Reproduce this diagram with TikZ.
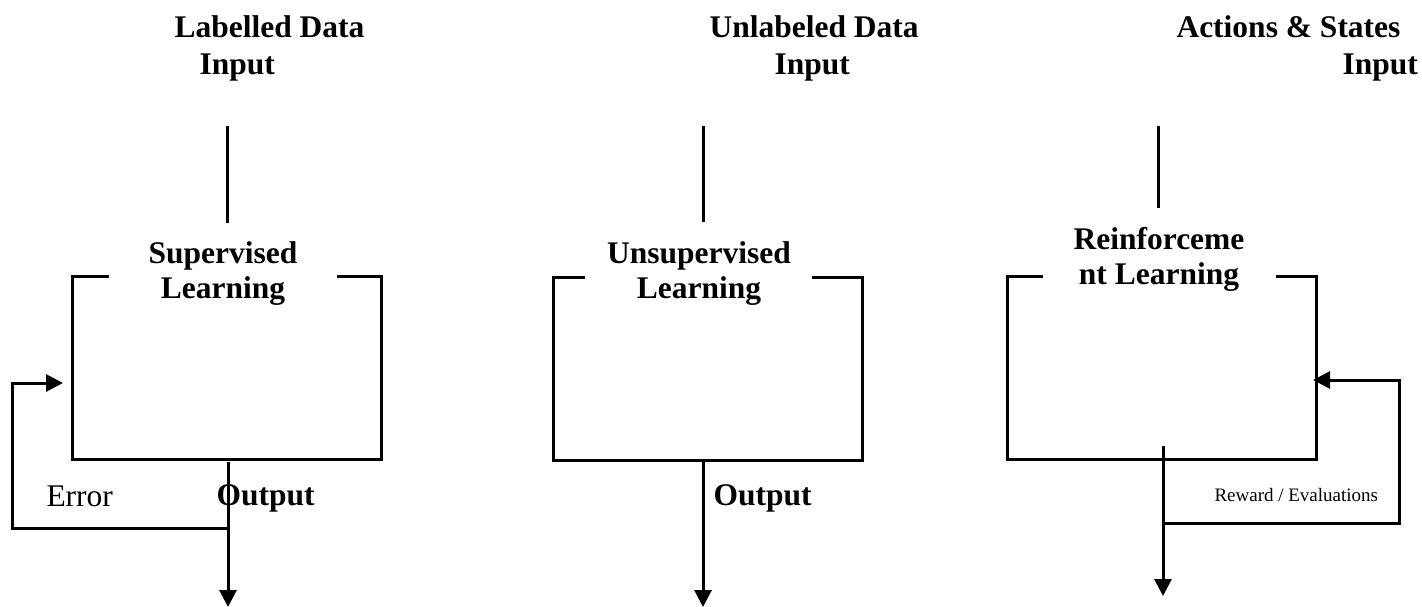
\documentclass[tikz,border=0pt]{standalone}
\usepackage{fontspec}
\setmainfont{Liberation Serif}
\usetikzlibrary{arrows.meta}

\begin{document}
\begin{tikzpicture}[x=1pt, y=-1pt, line width=3pt,
    heading/.style={font=\fontsize{31.5}{37}\selectfont\bfseries, align=left, anchor=base west, inner sep=0pt},
    boxtitle/.style={font=\fontsize{31.5}{35}\selectfont\bfseries, align=center, anchor=base, inner sep=0pt},
    plain/.style={font=\fontsize{31.5}{37}\selectfont, anchor=base west, inner sep=0pt},
    learnbox/.style={minimum width=309pt, minimum height=183pt, inner sep=0pt, outer sep=0pt},
    flow/.style={-{Triangle[length=17pt, width=17pt]}}]
    \useasboundingbox (0,0) rectangle (1422,607);

    \node[heading] (labelled) at (173,75) {Labelled Data\\\hspace*{25pt}Input};
    \node[heading] (unlabeled) at (708,75) {Unlabeled Data\\\hspace*{65pt}Input};
    \node[heading] (actions) at (1175,75) {Actions \& States\\\hspace*{166pt}Input};

    \node[learnbox] (sup) at (227,367.5) {};
    \node[learnbox] (unsup) at (707.5,368.5) {};
    \node[learnbox] (rl) at (1161.5,367.5) {};

    \node[boxtitle] (suptitle) at (223,298) {Supervised\\Learning};
    \node[boxtitle] (unsuptitle) at (699,298) {Unsupervised\\Learning};
    \node[boxtitle] (rltitle) at (1159,284) {Reinforceme\\nt Learning};

    \draw ([xshift=36pt]sup.north west) -- (sup.north west) -- (sup.south west) -- (sup.south east) -- (sup.north east) -- ([xshift=-45pt]sup.north east);
    \draw ([xshift=32pt]unsup.north west) -- (unsup.north west) -- (unsup.south west) -- (unsup.south east) -- (unsup.north east) -- ([xshift=-50pt]unsup.north east);
    \draw ([xshift=36pt]rl.north west) -- (rl.north west) -- (rl.south west) -- (rl.south east) -- (rl.north east) -- ([xshift=-40pt]rl.north east);

    \coordinate (supintop) at (227,126);
    \coordinate (supinbot) at (227,223);
    \coordinate (unsupintop) at (703,126);
    \coordinate (unsupinbot) at (703,222);
    \coordinate (rlintop) at (1158,126);
    \coordinate (rlinbot) at (1158,208);
    \draw (supintop) -- (supinbot);
    \draw (unsupintop) -- (unsupinbot);
    \draw (rlintop) -- (rlinbot);

    \coordinate (supouttop) at (228,462);
    \coordinate (supoutbot) at (228,607);
    \coordinate (unsupouttop) at (703,462);
    \coordinate (unsupoutbot) at (703,607);
    \coordinate (rlouttop) at (1163,446);
    \coordinate (rloutbot) at (1163,596);
    \draw[flow] (supouttop) -- (supoutbot);
    \draw[flow] (unsupouttop) -- (unsupoutbot);
    \draw[flow] (rlouttop) -- (rloutbot);

    \coordinate (superr) at (228,528);
    \coordinate (supback) at (63,383);
    \coordinate (rlrew) at (1163,523);
    \coordinate (rlback) at (1313,380);
    \draw[flow] (superr) -- ++(-216,0) |- (supback);
    \draw[flow] (rlrew) -- ++(236,0) |- (rlback);

    \node[plain] (error) at (45,506) {Error};
    \node[heading] (supoutput) at (215,505) {Output};
    \node[heading] (unsupoutput) at (712,505) {Output};
    \node[plain, font=\fontsize{19}{22}\selectfont] (reward) at (1213,501) {Reward / Evaluations};
\end{tikzpicture}
\end{document}
